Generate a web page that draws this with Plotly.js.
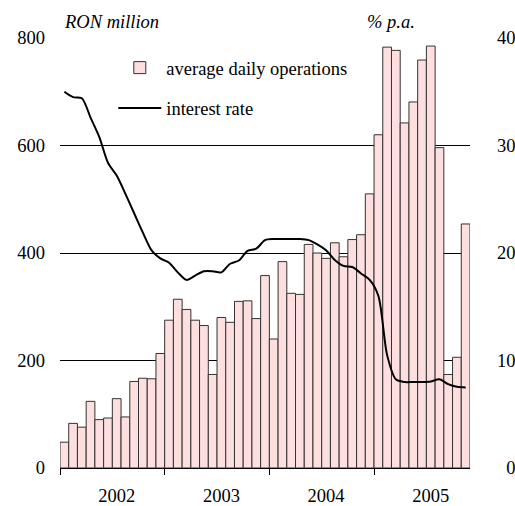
<!DOCTYPE html>
<html>
<head>
<meta charset="utf-8">
<script src="https://cdn.plot.ly/plotly-3.0.1.min.js"></script>
<style>html,body{margin:0;padding:0;background:#fff;}#chart{width:515px;height:506px;}</style>
</head>
<body>
<div id="chart"></div>
<script>
// Monthly categories (Jan 2002 - Nov 2005)
var months = [
  '2002-01','2002-02','2002-03','2002-04','2002-05','2002-06','2002-07','2002-08','2002-09','2002-10','2002-11','2002-12',
  '2003-01','2003-02','2003-03','2003-04','2003-05','2003-06','2003-07','2003-08','2003-09','2003-10','2003-11','2003-12',
  '2004-01','2004-02','2004-03','2004-04','2004-05','2004-06','2004-07','2004-08','2004-09','2004-10','2004-11','2004-12',
  '2005-01','2005-02','2005-03','2005-04','2005-05','2005-06','2005-07','2005-08','2005-09','2005-10','2005-11'
];
// average daily operations, RON million (left axis)
var dailyOps = [
  48, 83, 76, 124, 90, 93, 129, 95, 161, 167, 166, 213,
  275, 314, 295, 275, 265, 174, 280, 271, 310, 311, 278, 358,
  240, 384, 325, 323, 416, 400, 390, 419, 393, 425, 434, 510,
  620, 783, 777, 642, 681, 759, 785, 596, 174, 206, 454
];
// interest rate, % p.a. (right axis)
var interestRate = [
  35.0, 34.5, 34.4, 32.6, 30.8, 28.4, 27.2, 25.5, 23.7, 21.9, 20.25, 19.5,
  19.1, 18.2, 17.5, 17.9, 18.3, 18.3, 18.2, 19.0, 19.3, 20.2, 20.4, 21.2,
  21.3, 21.3, 21.3, 21.3, 21.2, 20.8, 20.25, 19.35, 18.8, 18.7, 18.1, 17.5,
  16.0, 10.5, 8.25, 8.0, 8.0, 8.0, 8.05, 8.25, 7.8, 7.55, 7.5
];
// year labels and where they sit (July of each year), year boundaries
var yearLabels = ['2002', '2003', '2004', '2005'];
var yearLabelMonths = ['2002-07', '2003-07', '2004-07', '2005-07'];
var yearStartMonths = ['2002-01', '2003-01', '2004-01', '2005-01'];
var leftTicks = [0, 200, 400, 600, 800];
var rightTicks = [0, 10, 20, 30, 40];

var xIdx = months.map(function (m, i) { return i; });
var idxOf = function (m) { return months.indexOf(m); };

var FONT = '"Liberation Serif", "Times New Roman", "DejaVu Serif", serif';
var FS = 18.5;

var traces = [
  {
    type: 'bar',
    name: 'average daily operations',
    x: xIdx,
    y: dailyOps,
    marker: { color: '#FDDFDF', line: { color: '#333333', width: 1 } },
    legend: 'legend',
    hoverinfo: 'y'
  },
  {
    type: 'scatter',
    mode: 'lines',
    name: 'interest rate',
    x: xIdx,
    y: interestRate,
    yaxis: 'y2',
    line: { color: '#000000', width: 2, shape: 'spline', smoothing: 0.8 },
    legend: 'legend2',
    hoverinfo: 'y'
  }
];

var layout = {
  width: 515,
  height: 506,
  margin: { l: 60, r: 45, t: 38, b: 38, pad: 0 },
  paper_bgcolor: '#ffffff',
  plot_bgcolor: '#ffffff',
  font: { family: FONT, size: FS, color: '#000000' },
  bargap: 0,
  showlegend: true,
  xaxis: {
    range: [-0.5, months.length - 0.5],
    tickmode: 'array',
    tickvals: yearLabelMonths.map(idxOf),
    ticktext: yearLabels,
    ticks: '',
    ticklabelstandoff: 11,
    tickfont: { family: FONT, size: FS },
    showgrid: false,
    zeroline: false,
    showline: true,
    linecolor: '#000000',
    linewidth: 1,
    minor: {
      tickmode: 'array',
      tickvals: yearStartMonths.map(function (m) { return idxOf(m) - 0.5; }),
      ticks: 'outside',
      ticklen: 6,
      tickwidth: 1,
      tickcolor: '#000000',
      showgrid: false
    },
    fixedrange: true
  },
  yaxis: {
    range: [0, 800],
    tickmode: 'array',
    tickvals: leftTicks,
    ticks: '',
    ticklabelstandoff: 14,
    tickfont: { family: FONT, size: FS },
    showgrid: true,
    gridcolor: '#000000',
    gridwidth: 1,
    zeroline: false,
    showline: false,
    fixedrange: true
  },
  yaxis2: {
    range: [0, 40],
    overlaying: 'y',
    side: 'right',
    tickmode: 'array',
    tickvals: rightTicks,
    ticktext: rightTicks.map(function (v) { return (v < 10 ? '\u2002' : '') + v; }),
    ticks: '',
    ticklabelstandoff: 26,
    tickfont: { family: FONT, size: FS },
    showgrid: false,
    zeroline: false,
    showline: false,
    fixedrange: true
  },
  legend: {
    x: 0.13, y: 0.93, xanchor: 'left', yanchor: 'middle',
    bgcolor: 'rgba(0,0,0,0)', borderwidth: 0,
    font: { family: FONT, size: FS },
    itemwidth: 43
  },
  legend2: {
    x: 0.13, y: 0.836, xanchor: 'left', yanchor: 'middle',
    bgcolor: 'rgba(0,0,0,0)', borderwidth: 0,
    font: { family: FONT, size: FS },
    itemwidth: 43
  },
  annotations: [
    {
      xref: 'paper', yref: 'paper', x: 0, y: 1, xanchor: 'left', yanchor: 'middle',
      xshift: 2, yshift: 16, showarrow: false,
      text: '<i>RON million</i>', font: { family: FONT, size: FS }
    },
    {
      xref: 'paper', yref: 'paper', x: 0.871, y: 1, xanchor: 'right', yanchor: 'middle',
      yshift: 16, showarrow: false,
      text: '<i>% p.a.</i>', font: { family: FONT, size: FS }
    }
  ]
};

Plotly.newPlot('chart', traces, layout, { displayModeBar: false, staticPlot: true });
</script>
</body>
</html>
